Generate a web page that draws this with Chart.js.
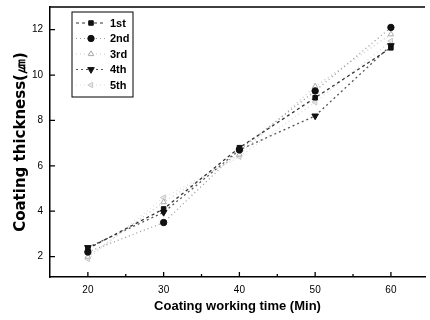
<!DOCTYPE html>
<html>
<head>
<meta charset="utf-8">
<script src="https://cdn.jsdelivr.net/npm/chart.js@4.4.1/dist/chart.umd.min.js"></script>
<style>
  html, body { margin: 0; padding: 0; background: #fff; }
  #wrap { width: 430px; height: 320px; position: relative; }
</style>
</head>
<body>
<div id="wrap"><canvas id="chart"></canvas></div>
<script>
// ── Data ──────────────────────────────────────────────────
const times  = [20, 30, 40, 50, 60];
const run1st = [2.35, 4.1, 6.8, 9.0, 11.2];
const run2nd = [2.2, 3.5, 6.7, 9.3, 12.1];
const run3rd = [2.0, 4.4, 6.5, 9.5, 11.8];
const run4th = [2.4, 3.95, 6.7, 8.2, 11.3];
const run5th = [1.9, 4.6, 6.4, 8.8, 11.5];
const labels = ["1st", "2nd", "3rd", "4th", "5th"];
const xTicks = [20, 30, 40, 50, 60];
const xMinor = [25, 35, 45, 55];
const yTicks = [2, 4, 6, 8, 10, 12];

const FONT = "'Liberation Sans', Arial, sans-serif";

function pts(vals) {
  return times.map(function (t, i) { return { x: t, y: vals[i] }; });
}

// ── Series styles (greyscale scan look) ──────────────────
const styles = [
  { c: "#111", line: "#333", dash: [3, 3], ps: "rect",     rot: 0,   r: 3.2, fill: "#111" },
  { c: "#111", line: "#999", dash: [1, 3], ps: "circle",   rot: 0,   r: 3.2, fill: "#111" },
  { c: "#aaa", line: "#ccc", dash: [1, 3], ps: "triangle", rot: 0,   r: 3.2, fill: "#fff" },
  { c: "#111", line: "#555", dash: [2, 3], ps: "triangle", rot: 180, r: 3.8, fill: "#111" },
  { c: "#c8c8c8", line: "#ddd", dash: [1, 3], ps: "triangle", rot: -90, r: 3.2, fill: "#e8e8e8" }
];
const series = [run1st, run2nd, run3rd, run4th, run5th];

const datasets = series.map(function (vals, i) {
  const s = styles[i];
  return {
    label: labels[i],
    data: pts(vals),
    borderColor: s.line,
    borderWidth: 1.3,
    borderDash: s.dash,
    pointStyle: s.ps,
    pointRotation: s.rot,
    pointRadius: s.r,
    pointBackgroundColor: s.fill,
    pointBorderColor: s.c,
    pointBorderWidth: 1,
    tension: 0,
    fill: false
  };
});

// ── Inward ticks, top frame and boxed legend ─────────────
const framePlugin = {
  id: "frame",
  afterDraw: function (chart) {
    const ctx = chart.ctx;
    const a = chart.chartArea;
    const xs = chart.scales.x, ys = chart.scales.y;
    ctx.save();
    ctx.strokeStyle = "#000";
    ctx.lineWidth = 1.3;
    ctx.beginPath();
    ctx.moveTo(a.left, a.top); ctx.lineTo(a.right, a.top);
    xTicks.forEach(function (v) {
      const x = xs.getPixelForValue(v);
      ctx.moveTo(x, a.bottom); ctx.lineTo(x, a.bottom - 5);
    });
    xMinor.forEach(function (v) {
      const x = xs.getPixelForValue(v);
      ctx.moveTo(x, a.bottom); ctx.lineTo(x, a.bottom - 3);
    });
    yTicks.forEach(function (v) {
      const y = ys.getPixelForValue(v);
      ctx.moveTo(a.left, y); ctx.lineTo(a.left + 5, y);
    });
    ctx.stroke();

    // legend box
    const bx = a.left + 22, by = a.top + 5, bw = 61, bh = 85;
    ctx.lineWidth = 1;
    ctx.strokeRect(bx, by, bw, bh);
    ctx.font = "bold 11px " + FONT;
    ctx.textBaseline = "middle";
    datasets.forEach(function (d, i) {
      const y = by + 11 + i * 15.5;
      ctx.strokeStyle = d.borderColor;
      ctx.setLineDash(d.borderDash);
      ctx.lineWidth = 1.2;
      ctx.beginPath();
      ctx.moveTo(bx + 4, y); ctx.lineTo(bx + 33, y);
      ctx.stroke();
      ctx.setLineDash([]);
      ctx.fillStyle = d.pointBackgroundColor;
      ctx.strokeStyle = d.pointBorderColor;
      ctx.lineWidth = 1;
      Chart.helpers.drawPoint(ctx, {
        pointStyle: d.pointStyle, radius: d.pointRadius,
        rotation: d.pointRotation, borderWidth: 1
      }, bx + 19, y);
      ctx.fillStyle = "#000";
      ctx.fillText(d.label, bx + 38, y + 0.5);
    });
    ctx.restore();
  }
};

new Chart(document.getElementById("chart"), {
  type: "line",
  data: { datasets: datasets },
  options: {
    responsive: true,
    maintainAspectRatio: false,
    animation: false,
    layout: { padding: { left: 12, right: 2, top: 7, bottom: 2 } },
    plugins: { legend: { display: false }, tooltip: { enabled: false } },
    scales: {
      x: {
        type: "linear",
        min: 15, max: 64.5,
        afterBuildTicks: function (s) { s.ticks = xTicks.map(function (v) { return { value: v }; }); },
        afterFit: function (s) { s.height = 41; s.paddingLeft = 0; s.paddingRight = 0; },
        border: { color: "#000", width: 1.5 },
        grid: { drawOnChartArea: false, drawTicks: false },
        ticks: { color: "#000", padding: 7, font: { family: FONT, size: 10 } },
        title: {
          display: true, text: "Coating working time (Min)", color: "#000",
          padding: { top: 9 }, font: { family: FONT, size: 13, weight: "bold" }
        }
      },
      y: {
        min: 1.1, max: 13,
        afterBuildTicks: function (s) { s.ticks = yTicks.map(function (v) { return { value: v }; }); },
        afterFit: function (s) { s.width = 38; s.paddingTop = 0; s.paddingBottom = 0; },
        border: { color: "#000", width: 1.5 },
        grid: { drawOnChartArea: false, drawTicks: false },
        ticks: { color: "#000", padding: 7, font: { family: FONT, size: 10 } },
        title: {
          display: true, text: "Coating thickness(㎛)", color: "#000",
          padding: { top: 0, bottom: 0 }, font: { family: "'DejaVu Sans', sans-serif", size: 15, weight: "bold" }
        }
      }
    }
  },
  plugins: [framePlugin]
});
</script>
</body>
</html>
